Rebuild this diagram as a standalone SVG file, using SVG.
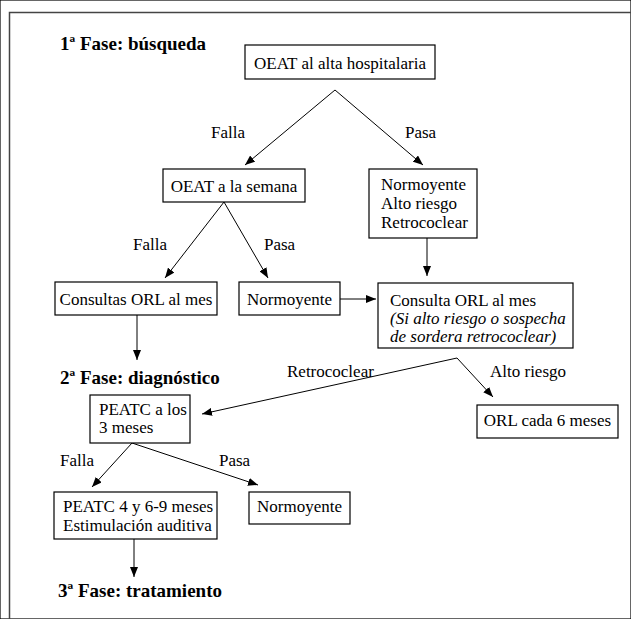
<svg xmlns="http://www.w3.org/2000/svg" width="631" height="619" viewBox="0 0 631 619" font-family="'Liberation Serif', 'DejaVu Serif', serif">
<style>
text{font-family:'Liberation Serif','DejaVu Serif',serif;font-size:17px;fill:#000}
.t{font-weight:bold;font-size:19px}
.i{font-style:italic}
rect{fill:#fff;stroke:#000;stroke-width:1.2}
.c line{stroke:#000;stroke-width:1}
</style>
<defs>
<marker id="a" viewBox="0 0 10 8" refX="10" refY="4" markerWidth="10" markerHeight="8" markerUnits="userSpaceOnUse" orient="auto">
<path d="M0,0 L10,4 L0,8 Z" fill="#000"/>
</marker>
</defs>
<rect width="631" height="619" fill="#fff" stroke="none"/>
<path d="M9.5,619 V12.5 H631" fill="none" stroke="#444" stroke-width="1.5"/>
<g id="titles">
<text class="t" x="60" y="50">1ª Fase: búsqueda</text>
<text class="t" x="60" y="384">2ª Fase: diagnóstico</text>
<text class="t" x="58" y="597">3ª Fase: tratamiento</text>
</g>
<g class="c" id="connectors">
<line x1="335" y1="90" x2="245" y2="165" marker-end="url(#a)"/>
<line x1="335" y1="90" x2="423" y2="165" marker-end="url(#a)"/>
<line x1="224" y1="202" x2="165" y2="278" marker-end="url(#a)"/>
<line x1="224" y1="202" x2="268" y2="278" marker-end="url(#a)"/>
<line x1="427" y1="238" x2="427" y2="276" marker-end="url(#a)"/>
<line x1="340" y1="299" x2="376" y2="299" marker-end="url(#a)"/>
<line x1="137" y1="315" x2="137" y2="360" marker-end="url(#a)"/>
<line x1="457" y1="358" x2="202" y2="414" marker-end="url(#a)"/>
<line x1="457" y1="358" x2="493" y2="397" marker-end="url(#a)"/>
<line x1="132" y1="443" x2="92" y2="487" marker-end="url(#a)"/>
<line x1="132" y1="443" x2="258" y2="485" marker-end="url(#a)"/>
<line x1="134" y1="539" x2="134" y2="577" marker-end="url(#a)"/>
<text x="211" y="138">Falla</text>
<text x="405" y="138">Pasa</text>
<text x="133" y="250">Falla</text>
<text x="264" y="250">Pasa</text>
<text x="287" y="377">Retrococlear</text>
<text x="490" y="377">Alto riesgo</text>
<text x="60" y="466">Falla</text>
<text x="219" y="466">Pasa</text>
</g>
<g id="n1"><rect x="245" y="45" width="190" height="34"/><text x="340" y="69" text-anchor="middle">OEAT al alta hospitalaria</text></g>
<g id="n2"><rect x="163" y="169" width="142" height="33"/><text x="234" y="192" text-anchor="middle">OEAT a la semana</text></g>
<g id="n3"><rect x="369" y="169" width="108" height="69"/><text x="381" y="190">Normoyente</text><text x="381" y="209">Alto riesgo</text><text x="381" y="228">Retrococlear</text></g>
<g id="n4"><rect x="55" y="282" width="162" height="33"/><text x="136" y="305" text-anchor="middle">Consultas ORL al mes</text></g>
<g id="n5"><rect x="239" y="282" width="101" height="33"/><text x="289.5" y="305" text-anchor="middle">Normoyente</text></g>
<g id="n6"><rect x="378" y="283" width="195" height="65"/><text x="390" y="306">Consulta ORL al mes</text><text class="i" x="390" y="324">(Si alto riesgo o sospecha</text><text class="i" x="390" y="342">de sordera retrococlear)</text></g>
<g id="n7"><rect x="90" y="395" width="100" height="48"/><text x="99" y="415">PEATC a los</text><text x="99" y="433">3 meses</text></g>
<g id="n8"><rect x="477" y="405" width="141" height="33"/><text x="547.5" y="426" text-anchor="middle">ORL cada 6 meses</text></g>
<g id="n9"><rect x="54" y="492" width="163" height="47"/><text x="63" y="512">PEATC 4 y 6-9 meses</text><text x="63" y="531">Estimulación auditiva</text></g>
<g id="n10"><rect x="249" y="492" width="101" height="32"/><text x="299.5" y="512" text-anchor="middle">Normoyente</text></g>
</svg>
